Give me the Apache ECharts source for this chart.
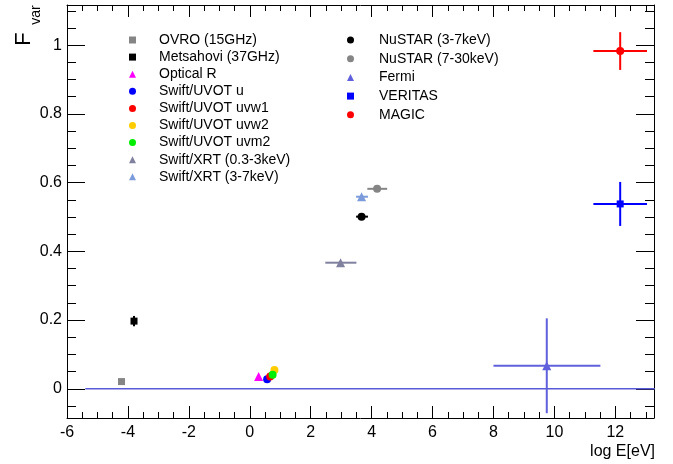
<!DOCTYPE html>
<html><head><meta charset="utf-8">
<script src="https://cdn.jsdelivr.net/npm/echarts@6/dist/echarts.min.js"></script>
<style>html,body{margin:0;padding:0;background:#fff}#c{width:673px;height:464px}</style>
</head><body><div id="c"></div>
<script>
// ---- data ----
const names = ['OVRO (15GHz)', 'Metsahovi (37GHz)', 'Optical R', 'Swift/UVOT u', 'Swift/UVOT uvw1',
  'Swift/UVOT uvw2', 'Swift/UVOT uvm2', 'Swift/XRT (0.3-3keV)', 'Swift/XRT (3-7keV)',
  'NuSTAR (3-7keV)', 'NuSTAR (7-30keV)', 'Fermi', 'VERITAS', 'MAGIC'];
const logE    = [-4.21, -3.80, 0.29, 0.57, 0.67, 0.81, 0.75, 2.98, 3.67, 3.67, 4.18, 9.75, 12.16, 12.16];
const fvar    = [0.021, 0.197, 0.036, 0.028, 0.036, 0.055, 0.041, 0.367, 0.559, 0.501, 0.582, 0.067, 0.538, 0.983];
const logEErrLow  = [0, 0, 0, 0, 0, 0, 0, 0.50, 0.18, 0.18, 0.32, 1.75, 0.88, 0.88];
const logEErrHigh = [0, 0, 0, 0, 0, 0, 0, 0.52, 0.21, 0.21, 0.33, 1.76, 0.88, 0.88];
const fvarErr = [0.003, 0.015, 0, 0, 0, 0, 0, 0.003, 0.003, 0.003, 0.003, 0.138, 0.064, 0.055];
const zeroLineX = [-5.4, 13.3];
const zeroLineY = [0, 0];
const leftLegendNames = names.slice(0, 9);
const rightLegendNames = names.slice(9);
const xTicks = { min: -6, max: 13.27, step: 2 };
const yTicks = { min: -0.085, max: 1.117, step: 0.2 };

// ---- styles ----
const colors = ['#858585', '#000000', '#ff00ff', '#0000ff', '#ff0000', '#ffcc00', '#00ee00',
  '#80809f', '#7b9bdb', '#000000', '#858585', '#6060dc', '#0000ff', '#ff0000'];
const symbols = ['rect', 'rect', 'triangle', 'circle', 'circle', 'circle', 'circle',
  'triangle', 'triangle', 'circle', 'circle', 'triangle', 'rect', 'circle'];
const symSize = { rect: 7, circle: 8, triangle: 9 };
const FONT = '"Liberation Sans", Arial, Helvetica, sans-serif';

const chart = echarts.init(document.getElementById('c'), null, { renderer: 'canvas' });

const errData = names.map((n, i) => [logE[i], fvar[i], logEErrLow[i], logEErrHigh[i], fvarErr[i], i]);

const series = [];
series.push({
  type: 'line', name: '_zero', data: zeroLineX.map((x, i) => [x, zeroLineY[i]]),
  showSymbol: false, symbol: 'none', lineStyle: { color: '#5a5ad8', width: 1.5 }, z: 1, silent: true
});
series.push({
  type: 'custom', name: '_err', data: errData, z: 2, silent: true, clip: true,
  renderItem(params, api) {
    const x = api.value(0), y = api.value(1), xm = api.value(2), xp = api.value(3), ye = api.value(4);
    const c = colors[api.value(5)];
    const ch = [];
    if (xm || xp) {
      const a = api.coord([x - xm, y]), b = api.coord([x + xp, y]);
      ch.push({ type: 'line', shape: { x1: a[0], y1: a[1], x2: b[0], y2: b[1] }, style: { stroke: c, lineWidth: 2 } });
    }
    if (ye) {
      const a = api.coord([x, y - ye]), b = api.coord([x, y + ye]);
      ch.push({ type: 'line', shape: { x1: a[0], y1: a[1], x2: b[0], y2: b[1] }, style: { stroke: c, lineWidth: 2 } });
    }
    return { type: 'group', children: ch };
  }
});
names.forEach((n, i) => {
  series.push({
    type: 'scatter', name: n, data: [[logE[i], fvar[i]]], symbol: symbols[i], symbolSize: symSize[symbols[i]],
    itemStyle: { color: colors[i], opacity: 1 }, z: 3, silent: true
  });
});

const tickStyle = { color: '#000', width: 1 };
function xAxisDef(pos, labels) {
  return {
    type: 'value', position: pos, min: xTicks.min, max: xTicks.max, interval: xTicks.step,
    axisLine: { show: true, onZero: false, lineStyle: tickStyle },
    axisTick: { show: true, inside: true, length: 12, lineStyle: tickStyle },
    minorTick: { show: true, splitNumber: 4, length: 6, lineStyle: tickStyle },
    splitLine: { show: false }, minorSplitLine: { show: false },
    axisLabel: {
      show: labels, color: '#000', fontSize: 16, fontFamily: FONT, margin: 7,
      showMinLabel: true, showMaxLabel: false,
      formatter: v => (Math.abs(v - Math.round(v)) < 1e-6 && Math.round(v) % 2 === 0) ? String(Math.round(v)) : ''
    }
  };
}
function yAxisDef(pos, labels) {
  return {
    type: 'value', position: pos, min: yTicks.min, max: yTicks.max, splitNumber: 5,
    minInterval: yTicks.step, maxInterval: yTicks.step,
    axisLine: { show: true, onZero: false, lineStyle: tickStyle },
    axisTick: { show: true, inside: true, length: 18, lineStyle: tickStyle },
    minorTick: { show: true, splitNumber: 4, length: 9, lineStyle: tickStyle },
    splitLine: { show: false }, minorSplitLine: { show: false },
    axisLabel: {
      show: labels, color: '#000', fontSize: 16, fontFamily: FONT, margin: 5,
      showMinLabel: false, showMaxLabel: false,
      formatter: v => {
        const r = Math.round(v / yTicks.step) * yTicks.step;
        if (Math.abs(v - r) > 1e-6) return '';
        return String(+r.toFixed(1));
      }
    }
  };
}

const legendBase = {
  orient: 'vertical', itemWidth: 7, itemHeight: 7, selectedMode: false, padding: 0,
  textStyle: { fontSize: 14, fontFamily: FONT, color: '#000' }
};

chart.setOption({
  animation: false,
  backgroundColor: '#fff',
  grid: { left: 67, right: 19, top: 5, bottom: 46, containLabel: false },
  xAxis: [xAxisDef('bottom', true), xAxisDef('top', false)],
  yAxis: [yAxisDef('left', true), yAxisDef('right', false)],
  legend: [
    Object.assign({}, legendBase, { left: 129, top: 33, itemGap: 3.1, data: leftLegendNames,
      textStyle: Object.assign({}, legendBase.textStyle, { padding: [0, 0, 0, 18] }) }),
    Object.assign({}, legendBase, { left: 347, top: 33, itemGap: 4.7, data: rightLegendNames,
      textStyle: Object.assign({}, legendBase.textStyle, { padding: [0, 0, 0, 20] }) })
  ],
  graphic: [
    { type: 'text', x: 24, y: 39, rotation: Math.PI / 2,
      style: { text: 'F', font: '22px ' + FONT, fill: '#000', textAlign: 'center', textVerticalAlign: 'middle' } },
    { type: 'text', x: 36, y: 15, rotation: Math.PI / 2,
      style: { text: 'var', font: '14px ' + FONT, fill: '#000', textAlign: 'center', textVerticalAlign: 'middle' } },
    { type: 'text', right: 18, top: 444,
      style: { text: 'log E[eV]', font: '16px ' + FONT, fill: '#000' } }
  ],
  series: series
});
</script></body></html>
